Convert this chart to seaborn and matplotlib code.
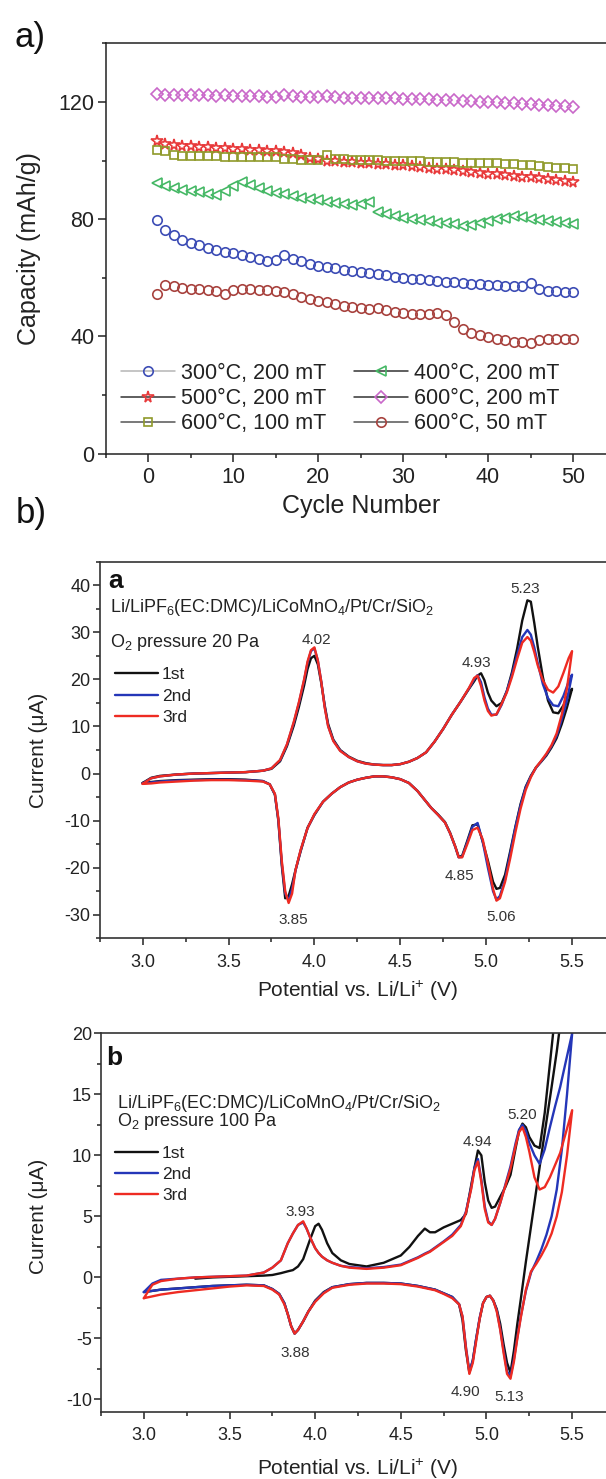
import numpy as np
import pandas as pd
import matplotlib
matplotlib.use("Agg")
import matplotlib.pyplot as plt
from matplotlib.lines import Line2D
from matplotlib.ticker import MultipleLocator
import seaborn as sns

# ---------------- Panel a) : capacity vs cycle number ----------------
cycle_number = list(range(1, 51))
cap_300C_200mT = [79.7, 76.3, 74.6, 73.0, 71.8, 71.0, 70.3, 69.5, 68.9, 68.3,
                  67.7, 67.1, 66.4, 65.7, 66.2, 67.6, 66.5, 65.6, 64.8, 64.1,
                  63.6, 63.2, 62.7, 62.3, 62.0, 61.6, 61.2, 60.8, 60.4, 60.0,
                  59.7, 59.4, 59.1, 58.8, 58.6, 58.4, 58.2, 58.0, 57.8, 57.6,
                  57.4, 57.3, 57.2, 57.3, 58.1, 56.2, 55.6, 55.3, 55.2, 55.1]
cap_400C_200mT = [92.4, 91.4, 90.7, 90.1, 89.6, 89.1, 88.7, 88.3, 89.6, 91.4,
                  92.5, 91.6, 90.6, 89.6, 89.0, 88.4, 87.9, 87.3, 86.9, 86.4,
                  86.0, 85.6, 85.2, 84.9, 85.0, 85.8, 82.3, 81.6, 81.0, 80.5,
                  80.0, 79.6, 79.2, 78.8, 78.5, 78.2, 77.8, 77.9, 78.7, 79.5,
                  80.0, 80.4, 80.9, 80.6, 80.2, 79.8, 79.4, 79.0, 78.7, 78.4]
cap_500C_200mT = [106.8, 105.5, 105.2, 105.0, 104.8, 104.6, 104.5, 104.3, 104.2, 104.0,
                  103.8, 103.6, 103.5, 103.3, 103.1, 102.9, 102.4, 101.8, 101.0, 100.4,
                  100.0, 99.8, 99.6, 99.5, 99.3, 99.1, 98.9, 98.7, 98.5, 98.3,
                  98.0, 97.8, 97.5, 97.2, 97.0, 96.7, 96.4, 96.1, 95.8, 95.5,
                  95.3, 95.0, 94.7, 94.5, 94.2, 94.0, 93.7, 93.4, 93.1, 92.8]
cap_600C_200mT = [122.6, 122.4, 122.4, 122.3, 122.3, 122.2, 122.2, 122.1, 122.2, 122.0,
                  121.9, 122.0, 121.9, 121.8, 121.7, 122.2, 121.9, 121.8, 121.8, 121.7,
                  121.9, 121.6, 121.5, 121.5, 121.4, 121.3, 121.3, 121.2, 121.2, 121.1,
                  121.0, 120.9, 120.9, 120.7, 120.6, 120.5, 120.3, 120.2, 120.0, 119.9,
                  119.8, 119.6, 119.5, 119.3, 119.2, 119.0, 118.9, 118.7, 118.6, 118.4]
cap_600C_100mT = [103.6, 103.2, 102.0, 101.5, 101.5, 101.4, 101.4, 101.4, 101.3, 101.3,
                  101.3, 101.2, 101.2, 101.2, 101.1, 100.6, 100.4, 100.3, 100.3, 100.2,
                  101.8, 100.4, 100.4, 100.3, 100.3, 100.2, 100.1, 100.0, 100.0, 99.9,
                  99.8, 99.7, 99.6, 99.6, 99.5, 99.4, 99.3, 99.3, 99.2, 99.1,
                  99.0, 98.9, 98.7, 98.5, 98.3, 98.0, 97.8, 97.6, 97.4, 97.2]
cap_600C_50mT = [54.6, 57.6, 57.0, 56.6, 56.3, 56.0, 55.7, 55.3, 54.5, 55.8,
                 56.0, 56.0, 55.9, 55.7, 55.4, 55.0, 54.3, 53.5, 52.8, 52.2,
                 51.6, 51.0, 50.4, 49.9, 49.5, 49.2, 49.8, 48.9, 48.4, 48.0,
                 47.7, 47.6, 47.7, 48.0, 47.2, 45.0, 42.5, 41.2, 40.3, 39.6,
                 39.0, 38.6, 38.2, 38.0, 37.8, 38.6, 39.0, 39.1, 39.1, 39.0]
series_labels = ["300°C, 200 mT", "400°C, 200 mT", "500°C, 200 mT",
                 "600°C, 200 mT", "600°C, 100 mT", "600°C, 50 mT"]
cap_xticks = [0, 10, 20, 30, 40, 50]
cap_yticks = [0, 40, 80, 120]

# ---------------- Panel b) a : CV, O2 pressure 20 Pa ----------------
va_anodic = [3.00, 3.05, 3.10, 3.20, 3.30, 3.40, 3.50, 3.60, 3.70, 3.75,
             3.80, 3.84, 3.88, 3.91, 3.94, 3.96, 3.98, 4.00, 4.02, 4.04,
             4.06, 4.08, 4.11, 4.15, 4.20, 4.25, 4.30, 4.35, 4.40, 4.45,
             4.50, 4.55, 4.60, 4.65, 4.70, 4.75, 4.80, 4.85, 4.90, 4.93,
             4.95, 4.97, 4.99, 5.01, 5.03, 5.06, 5.09, 5.12, 5.15, 5.18,
             5.21, 5.24, 5.26, 5.28, 5.30, 5.33, 5.36, 5.39, 5.42, 5.45,
             5.48, 5.50]
ia_anodic_1st = [-2.0, -0.9, -0.5, -0.2, 0.0, 0.1, 0.2, 0.3, 0.6, 1.0,
                 2.6, 5.8, 10.2, 14.2, 18.7, 22.2, 24.5, 25.0, 23.2, 19.2,
                 14.5, 10.5, 7.2, 5.0, 3.6, 2.7, 2.2, 1.9, 1.8, 1.8,
                 2.0, 2.5, 3.3, 4.5, 6.8, 9.5, 12.5, 15.2, 18.0, 19.6,
                 20.8, 21.3, 19.8, 17.2, 15.5, 14.3, 15.0, 17.5, 21.5, 26.5,
                 32.5, 36.8, 36.5, 32.0, 27.0, 20.5, 15.5, 13.0, 12.8, 14.5,
                 17.0, 18.0]
ia_anodic_2nd = [-2.1, -1.0, -0.6, -0.2, 0.0, 0.1, 0.2, 0.3, 0.6, 1.1,
                 2.8, 6.1, 10.8, 15.0, 19.8, 23.5, 26.0, 26.6, 24.0, 19.5,
                 14.2, 10.1, 7.0, 4.9, 3.5, 2.6, 2.1, 1.9, 1.8, 1.8,
                 2.0, 2.5, 3.3, 4.5, 6.8, 9.5, 12.5, 15.2, 18.1, 20.0,
                 20.9, 19.4, 16.2, 13.8, 12.5, 12.5, 14.6, 17.5, 21.0, 25.2,
                 29.0, 30.5, 29.5, 26.8, 23.5, 19.0, 16.0, 14.5, 14.3, 16.5,
                 19.5, 21.0]
ia_anodic_3rd = [-2.2, -1.0, -0.6, -0.2, 0.0, 0.1, 0.2, 0.3, 0.6, 1.1,
                 2.9, 6.2, 11.0, 15.2, 20.0, 23.8, 26.2, 26.8, 24.0, 19.5,
                 14.0, 10.0, 6.9, 4.8, 3.5, 2.6, 2.1, 1.9, 1.8, 1.8,
                 2.0, 2.5, 3.3, 4.5, 6.8, 9.5, 12.5, 15.2, 18.2, 20.3,
                 20.8, 18.6, 15.5, 13.3, 12.3, 12.6, 14.8, 17.2, 20.5, 24.3,
                 27.8, 29.0, 28.2, 25.8, 23.0, 19.8, 17.8, 17.2, 18.5, 21.4,
                 24.5, 26.0]
va_cathodic = [5.50, 5.47, 5.44, 5.41, 5.38, 5.35, 5.32, 5.29, 5.26, 5.23,
               5.20, 5.17, 5.14, 5.11, 5.08, 5.06, 5.04, 5.01, 4.98, 4.95,
               4.92, 4.89, 4.86, 4.84, 4.82, 4.79, 4.76, 4.72, 4.68, 4.64,
               4.60, 4.55, 4.50, 4.45, 4.40, 4.35, 4.30, 4.25, 4.20, 4.15,
               4.10, 4.05, 4.00, 3.96, 3.92, 3.89, 3.87, 3.85, 3.83, 3.81,
               3.79, 3.77, 3.74, 3.70, 3.60, 3.50, 3.40, 3.30, 3.20, 3.10,
               3.05, 3.00]
ia_cathodic_1st = [18.0, 14.0, 10.5, 7.5, 5.5, 3.8, 2.5, 1.3, -0.5, -2.8,
                   -6.5, -11.3, -16.5, -21.5, -24.3, -24.5, -23.0, -18.5, -14.5, -10.8,
                   -11.0, -14.3, -17.5, -17.7, -15.5, -12.6, -10.3, -8.7, -7.3, -5.5,
                   -3.7, -2.0, -1.2, -0.8, -0.6, -0.6, -0.9, -1.3, -1.9, -2.9,
                   -4.3, -6.0, -8.8, -11.5, -16.5, -20.5, -23.5, -26.0, -26.5, -19.5,
                   -10.0, -4.5, -2.3, -1.6, -1.3, -1.2, -1.2, -1.3, -1.4, -1.6,
                   -1.8, -2.0]
ia_cathodic_2nd = [21.0, 15.5, 11.5, 8.0, 5.8, 4.0, 2.6, 1.2, -0.6, -3.0,
                   -6.8, -11.5, -17.0, -22.5, -26.0, -26.8, -25.0, -20.0, -14.5, -10.5,
                   -11.3, -14.6, -17.7, -17.8, -15.6, -12.7, -10.4, -8.8, -7.3, -5.5,
                   -3.7, -2.0, -1.2, -0.8, -0.6, -0.6, -0.9, -1.3, -1.9, -2.9,
                   -4.3, -6.0, -8.7, -11.6, -16.3, -20.6, -24.5, -27.0, -25.5, -19.0,
                   -9.8, -4.4, -2.3, -1.6, -1.4, -1.3, -1.3, -1.4, -1.5, -1.7,
                   -1.9, -2.1]
ia_cathodic_3rd = [26.0, 18.0, 12.5, 8.5, 6.0, 4.2, 2.7, 1.3, -0.8, -3.5,
                   -7.5, -12.5, -18.0, -23.0, -26.5, -27.0, -24.5, -19.0, -14.0, -11.5,
                   -12.0, -15.0, -17.8, -17.8, -15.5, -12.7, -10.4, -8.8, -7.3, -5.5,
                   -3.7, -2.0, -1.2, -0.8, -0.6, -0.6, -0.9, -1.3, -1.9, -2.9,
                   -4.3, -6.0, -8.6, -11.6, -16.2, -20.5, -25.5, -27.5, -25.0, -18.5,
                   -9.5, -4.3, -2.3, -1.7, -1.5, -1.4, -1.4, -1.5, -1.7, -1.9,
                   -2.1, -2.2]
peaks_a = ["4.02", "4.93", "5.23", "3.85", "4.85", "5.06"]
peaks_a_v = [4.01, 4.945, 5.226, 3.875, 4.847, 5.09]
peaks_a_i = [28.3, 23.4, 39.3, -31.1, -21.8, -30.4]

# ---------------- Panel b) b : CV, O2 pressure 100 Pa ----------------
vb_anodic = [3.00, 3.05, 3.10, 3.20, 3.30, 3.40, 3.50, 3.60, 3.70, 3.75,
             3.80, 3.84, 3.87, 3.90, 3.93, 3.95, 3.97, 4.00, 4.02, 4.04,
             4.07, 4.10, 4.15, 4.20, 4.30, 4.40, 4.50, 4.55, 4.60, 4.64,
             4.67, 4.70, 4.75, 4.80, 4.85, 4.88, 4.91, 4.93, 4.95, 4.97,
             4.99, 5.01, 5.03, 5.05, 5.08, 5.11, 5.14, 5.17, 5.19, 5.21,
             5.23, 5.25, 5.28, 5.31, 5.34, 5.37, 5.40, 5.43, 5.46, 5.50]
ib_anodic_1st = [np.nan, np.nan, np.nan, np.nan, -0.1, 0.0, 0.05, 0.1, 0.15, 0.2,
                 0.35, 0.5, 0.6, 0.9, 1.5, 2.3, 3.1, 4.2, 4.4, 3.9,
                 2.8, 2.0, 1.4, 1.1, 0.9, 1.2, 1.8, 2.5, 3.4, 4.0,
                 3.7, 3.7, 4.1, 4.4, 4.7, 5.2, 7.5, 9.0, 10.4, 10.0,
                 7.8, 6.3, 5.7, 5.8, 6.6, 7.4, 8.4, 10.6, 12.0, 12.6,
                 12.3, 11.5, 10.8, 10.6, 13.5, 17.5, 21.5, 27.0, 33.0, 42.0]
ib_anodic_2nd = [-1.2, -0.5, -0.2, -0.1, 0.0, 0.05, 0.1, 0.15, 0.4, 0.8,
                 1.4, 2.8, 3.6, 4.3, 4.5, 4.0, 3.3, 2.4, 2.0, 1.7,
                 1.4, 1.2, 0.95, 0.85, 0.75, 0.85, 1.05, 1.35, 1.65, 1.95,
                 2.15, 2.45, 2.95, 3.5, 4.3, 5.4, 7.3, 9.0, 9.7, 8.0,
                 5.8, 4.6, 4.3, 4.8, 6.1, 7.6, 9.1, 11.0, 12.1, 12.5,
                 12.0, 11.0, 10.0, 9.3, 10.5, 12.3, 14.0, 15.6, 17.5, 20.0]
ib_anodic_3rd = [-1.7, -0.6, -0.3, -0.1, 0.0, 0.05, 0.1, 0.15, 0.4, 0.8,
                 1.4, 2.8, 3.6, 4.3, 4.6, 4.0, 3.3, 2.4, 2.0, 1.7,
                 1.4, 1.2, 0.95, 0.8, 0.7, 0.8, 1.0, 1.3, 1.6, 1.9,
                 2.1, 2.4, 2.9, 3.4, 4.2, 5.3, 7.2, 8.8, 9.5, 7.8,
                 5.6, 4.5, 4.3, 4.8, 6.1, 7.5, 8.9, 10.8, 11.9, 12.3,
                 11.5, 10.3, 8.2, 7.2, 7.4, 8.2, 9.2, 10.2, 11.7, 13.7]
vb_cathodic = [5.50, 5.47, 5.44, 5.41, 5.38, 5.35, 5.32, 5.29, 5.26, 5.23,
               5.20, 5.18, 5.16, 5.14, 5.12, 5.10, 5.08, 5.06, 5.04, 5.02,
               5.00, 4.98, 4.96, 4.94, 4.92, 4.90, 4.88, 4.86, 4.84, 4.80,
               4.75, 4.70, 4.60, 4.50, 4.40, 4.30, 4.20, 4.10, 4.05, 4.00,
               3.96, 3.93, 3.90, 3.88, 3.86, 3.84, 3.82, 3.79, 3.75, 3.70,
               3.60, 3.50, 3.40, 3.30, 3.20, 3.10, 3.05, 3.00]
ib_cathodic_1st = [42.0, 30.0, 21.8, 18.5, 15.6, 12.8, 10.0, 7.1, 4.2, 1.3,
                   -1.8, -3.8, -6.0, -7.8, -7.0, -5.5, -3.8, -2.6, -1.9, -1.5,
                   -1.6, -2.1, -3.4, -5.0, -6.8, -7.8, -6.0, -3.5, -2.2, -1.6,
                   -1.3, -1.0, -0.7, -0.5, -0.45, -0.45, -0.55, -0.8, -1.2, -1.9,
                   -2.8, -3.6, -4.3, -4.6, -4.0, -3.0, -2.1, -1.35, -0.95, -0.65,
                   -0.6, -0.65, -0.7, -0.8, -0.9, -1.0, -1.1, -1.2]
ib_cathodic_2nd = [20.0, 15.0, 10.5, 7.2, 5.0, 3.5, 2.3, 1.3, 0.4, -1.1,
                   -3.2, -4.9, -6.7, -8.1, -7.7, -6.0, -4.2, -2.7, -1.9, -1.5,
                   -1.6, -2.1, -3.3, -5.0, -6.8, -7.7, -5.7, -3.2, -2.2, -1.6,
                   -1.3, -1.0, -0.7, -0.5, -0.45, -0.45, -0.55, -0.8, -1.25, -1.95,
                   -2.8, -3.6, -4.3, -4.6, -4.0, -3.0, -2.1, -1.35, -0.95, -0.65,
                   -0.6, -0.65, -0.7, -0.8, -0.9, -1.0, -1.1, -1.2]
ib_cathodic_3rd = [13.7, 10.0, 7.0, 5.0, 3.6, 2.6, 1.8, 1.1, 0.5, -1.0,
                   -3.3, -5.0, -6.9, -8.3, -7.9, -6.2, -4.3, -2.8, -1.9, -1.5,
                   -1.6, -2.1, -3.4, -5.2, -7.0, -7.9, -5.8, -3.2, -2.2, -1.7,
                   -1.35, -1.05, -0.75, -0.55, -0.5, -0.5, -0.6, -0.85, -1.3, -2.0,
                   -2.8, -3.6, -4.3, -4.6, -4.0, -3.0, -2.2, -1.4, -1.0, -0.7,
                   -0.65, -0.75, -0.9, -1.05, -1.2, -1.4, -1.55, -1.7]
peaks_b = ["3.93", "4.94", "5.20", "3.88", "4.90", "5.13"]
peaks_b_v = [3.914, 4.945, 5.207, 3.885, 4.876, 5.13]
peaks_b_i = [5.4, 11.1, 13.3, -6.2, -9.4, -9.8]

cycle_labels = ["1st", "2nd", "3rd"]
cv_xticks = [3.0, 3.5, 4.0, 4.5, 5.0, 5.5]

# ---------------- style ----------------
sns.set_theme(style="ticks")
plt.rcParams["font.family"] = ["Liberation Sans", "DejaVu Sans"]
plt.rcParams["mathtext.fontset"] = "custom"
plt.rcParams["mathtext.rm"] = "Liberation Sans"
plt.rcParams["mathtext.it"] = "Liberation Sans:italic"
plt.rcParams["mathtext.bf"] = "Liberation Sans:bold"
plt.rcParams["axes.unicode_minus"] = False

W, H = 606, 1479
fig = plt.figure(figsize=(W / 100, H / 100), dpi=100)
fig.patch.set_facecolor("white")


def rect(l, r, t, b):
    return [l / W, 1 - b / H, (r - l) / W, (b - t) / H]


def fx(x):
    return x / W


def fy(y):
    return 1 - y / H


def style_axes(ax, color, lw, major_len, minor_len, labelsize, xpad, ypad):
    for s in ax.spines.values():
        s.set_color(color)
        s.set_linewidth(lw)
    ax.tick_params(which="both", direction="out", color=color, width=lw,
                   labelcolor="#222222", labelsize=labelsize)
    ax.tick_params(which="major", length=major_len)
    ax.tick_params(which="minor", length=minor_len)
    ax.tick_params(axis="x", which="major", pad=xpad)
    ax.tick_params(axis="y", which="major", pad=ypad)
    ax.grid(False)


# ================= Panel a) =================
ax1 = fig.add_axes(rect(105.5, 615.5, 43.3, 453.5))
cap_series = [cap_300C_200mT, cap_400C_200mT, cap_500C_200mT,
              cap_600C_200mT, cap_600C_100mT, cap_600C_50mT]
cap_markers = ["o", "<", "*", "D", "s", "o"]
cap_colors = ["#3d4db5", "#45b865", "#e8393a", "#c968c9", "#8f9a2a", "#a8433f"]
cap_msizes = [6.8, 7.2, 8.5, 5.8, 6.3, 6.8]
cap_hcolors = ["#b5b5b5", "#333333", "#333333", "#333333", "#555555", "#555555"]

for vals, mk, col, ms in zip(cap_series, cap_markers, cap_colors, cap_msizes):
    sns.lineplot(x=cycle_number, y=vals, ax=ax1, estimator=None, sort=False,
                 color=col, marker=mk, linestyle="none", markersize=ms,
                 markerfacecolor="none", markeredgecolor=col,
                 markeredgewidth=1.2, legend=False)

ax1.set_xlim(-5, 55)
ax1.set_ylim(0, 140)
ax1.set_xticks(cap_xticks)
ax1.set_yticks(cap_yticks)
ax1.xaxis.set_minor_locator(MultipleLocator(5))
ax1.yaxis.set_minor_locator(MultipleLocator(20))
style_axes(ax1, "#222222", 1.1, 5.5, 3.0, 15.5, 4, 2.5)
ax1.set_xlabel("Cycle Number", fontsize=18, color="#222222", va="center")
ax1.xaxis.set_label_coords((361 - 105.5) / 510, (453.5 - 506) / 410.2)
ax1.set_ylabel("Capacity (mAh/g)", fontsize=18, color="#222222", va="center")
ax1.yaxis.set_label_coords((29 - 105.5) / 510, 0.5)

handles = [Line2D([], [], color=hc, lw=1.1, marker=mk, markersize=ms,
                  markerfacecolor="none", markeredgecolor=col, markeredgewidth=1.2)
           for mk, col, ms, hc in zip(cap_markers, cap_colors, cap_msizes, cap_hcolors)]
order = [0, 2, 4, 1, 3, 5]
leg1 = ax1.legend([handles[i] for i in order], [series_labels[i] for i in order],
                  ncol=2, loc="upper left", bbox_to_anchor=(fx(121), fy(363)),
                  bbox_transform=fig.transFigure, frameon=False, fontsize=15.5,
                  handlelength=2.5, handletextpad=0.28, columnspacing=1.3,
                  labelspacing=0.19, borderpad=0, borderaxespad=0, numpoints=1)
for t in leg1.get_texts():
    t.set_color("#222222")

fig.text(fx(30), fy(37.5), "a)", fontsize=25, ha="center", va="center", color="#111111")
fig.text(fx(31), fy(513), "b)", fontsize=25, ha="center", va="center", color="#111111")

# ================= CV panels =================
cv_colors = ["#111111", "#2436b8", "#ee2b22"]


def cv_panel(rect_px, ylim, ymaj, ymin, v_an, an_list, v_ca, ca_list,
             letter, letter_xy, line1_xy, line2_xy, pressure,
             leg_xy, leg_spacing, ptxt, pv, pi, ylabel_y, xlabel_dy):
    ax = fig.add_axes(rect(*rect_px))
    for an, ca, col, lab in zip(an_list, ca_list, cv_colors, cycle_labels):
        v = list(v_an) + list(v_ca)
        cur = list(an) + list(ca)
        sns.lineplot(x=v, y=cur, ax=ax, sort=False, estimator=None,
                     color=col, lw=1.7, label=lab)
    ax.set_xlim(2.75, 5.75)
    ax.set_ylim(*ylim)
    ax.set_xticks(cv_xticks)
    ax.xaxis.set_major_formatter(matplotlib.ticker.FormatStrFormatter("%.1f"))
    ax.yaxis.set_major_locator(MultipleLocator(ymaj))
    ax.xaxis.set_minor_locator(MultipleLocator(0.25))
    ax.yaxis.set_minor_locator(MultipleLocator(ymin))
    style_axes(ax, "#333333", 1.2, 5.0, 3.0, 13, 6, 1.5)
    l, r, t, b = rect_px
    ax.set_xlabel("Potential vs. Li/Li$^{+}$ (V)", fontsize=15, color="#222222", va="center")
    ax.set_ylabel("Current (\u03bcA)", fontsize=15, color="#222222", va="center")
    ax.yaxis.set_label_coords((38.6 - l) / (r - l), ylabel_y)
    ax.xaxis.set_label_coords(0.5 * (r - l) / (r - l) if False else ((l + r) / 2 - l) / (r - l),
                              -xlabel_dy / (b - t))
    for txt, x, y in zip(ptxt, pv, pi):
        ax.text(x, y, txt, fontsize=11, color="#333333", ha="center", va="center")
    ax.text(fx(letter_xy[0]), fy(letter_xy[1]), letter, transform=fig.transFigure,
            fontsize=19, fontweight="bold", color="#111111", ha="left", va="baseline")
    ax.text(fx(line1_xy[0]), fy(line1_xy[1]),
            "Li/LiPF$_6$(EC:DMC)/LiCoMnO$_4$/Pt/Cr/SiO$_2$", transform=fig.transFigure,
            fontsize=13, color="#222222", ha="left", va="baseline")
    ax.text(fx(line2_xy[0]), fy(line2_xy[1]), "O$_2$ pressure " + pressure,
            transform=fig.transFigure, fontsize=13, color="#222222",
            ha="left", va="baseline")
    leg = ax.legend(loc="upper left", bbox_to_anchor=(fx(leg_xy[0]), fy(leg_xy[1])),
                    bbox_transform=fig.transFigure, frameon=False, fontsize=12.5,
                    handlelength=2.5, handletextpad=0.2, labelspacing=leg_spacing,
                    borderpad=0, borderaxespad=0)
    for t_ in leg.get_texts():
        t_.set_color("#222222")
    return ax


cv_panel((99.7, 615, 561.7, 938.3), (-35, 45), 10, 5,
         va_anodic, [ia_anodic_1st, ia_anodic_2nd, ia_anodic_3rd],
         va_cathodic, [ia_cathodic_1st, ia_cathodic_2nd, ia_cathodic_3rd],
         "a", (108, 588), (110, 611.5), (110, 647), "20 Pa",
         (115, 667), 0.37, peaks_a, peaks_a_v, peaks_a_i, 0.5, 52.5)

cv_panel((101, 615, 1033.3, 1411.7), (-11, 20), 5, 2.5,
         vb_anodic, [ib_anodic_1st, ib_anodic_2nd, ib_anodic_3rd],
         vb_cathodic, [ib_cathodic_1st, ib_cathodic_2nd, ib_cathodic_3rd],
         "b", (106.5, 1065), (116.7, 1108), (116.7, 1126.5), "100 Pa",
         (115, 1146), 0.33, peaks_b, peaks_b_v, peaks_b_i, 0.515, 57)

fig.savefig("out.png", dpi=100, facecolor="white")
